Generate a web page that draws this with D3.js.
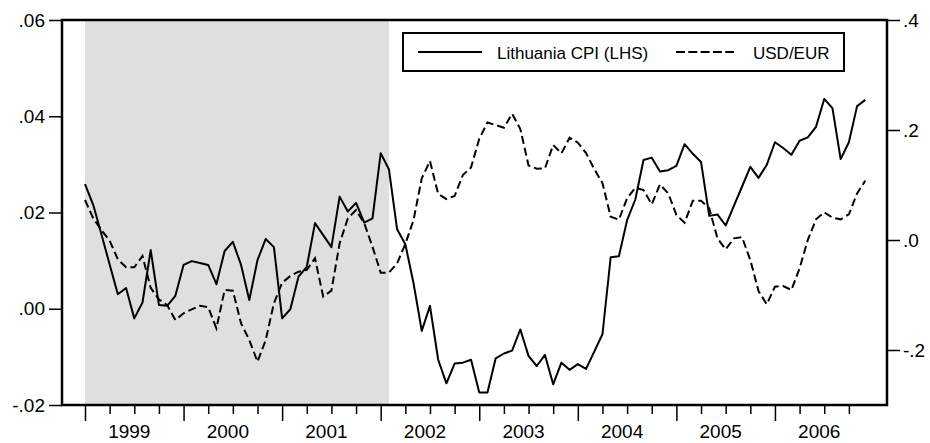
<!DOCTYPE html>
<html>
<head>
<meta charset="utf-8">
<script src="https://cdn.jsdelivr.net/npm/d3@7"></script>
<style>
  body { margin: 0; background: #ffffff; }
  text { font-family: "Liberation Sans", Arial, sans-serif; fill: #000; }
</style>
</head>
<body>
<div id="chart-area"></div>
<script>
// monthly data, Jan 1999 .. Dec 2006 (index 0 = Jan 1999)
var years = ["1999", "2000", "2001", "2002", "2003", "2004", "2005", "2006"];

var cpi = [
	0.0259, 0.0216, 0.0155, 0.0092, 0.0030, 0.0043, -0.0020, 0.0013, 0.0122, 0.0008, 0.0006, 0.0027,
	0.0091, 0.0099, 0.0095, 0.0091, 0.0051, 0.0120, 0.0139, 0.0091, 0.0018, 0.0101, 0.0145, 0.0128,
	-0.0020, -0.0001, 0.0067, 0.0087, 0.0178, 0.0153, 0.0128, 0.0233, 0.0202, 0.0220, 0.0179, 0.0188,
	0.0323, 0.0290, 0.0165, 0.0134, 0.0053, -0.0046, 0.0006, -0.0106, -0.0155, -0.0114, -0.0112, -0.0106,
	-0.0174, -0.0174, -0.0103, -0.0093, -0.0087, -0.0043, -0.0098, -0.0119, -0.0096, -0.0157, -0.0112, -0.0127,
	-0.0115, -0.0125, -0.0089, -0.0053, 0.0107, 0.0109, 0.0184, 0.0227, 0.0309, 0.0314, 0.0285, 0.0288,
	0.0297, 0.0342, 0.0322, 0.0305, 0.0193, 0.0196, 0.0173, 0.0214, 0.0254, 0.0295, 0.0272, 0.0299,
	0.0346, 0.0334, 0.0320, 0.0349, 0.0356, 0.0378, 0.0436, 0.0417, 0.0311, 0.0346, 0.0421, 0.0434
];

var usdeur = [
	0.0727, 0.0394, 0.0182, -0.0012, -0.0352, -0.0497, -0.0497, -0.0291, -0.0870, -0.1080, -0.1180, -0.1455,
	-0.1333, -0.1260, -0.1194, -0.1224, -0.1606, -0.0909, -0.0921, -0.1515, -0.1818, -0.2212, -0.1820, -0.1150,
	-0.0776, -0.0655, -0.0576, -0.0545, -0.0333, -0.1030, -0.0920, -0.0060, 0.0394, 0.0545, 0.0303, -0.0121,
	-0.0594, -0.0594, -0.0424, -0.0073, 0.0364, 0.1120, 0.1436, 0.0836, 0.0745, 0.0800, 0.1180, 0.1320,
	0.1840, 0.2136, 0.2090, 0.2040, 0.2296, 0.2018, 0.1355, 0.1297, 0.1303, 0.1727, 0.1576, 0.1860,
	0.1770, 0.1580, 0.1290, 0.1036, 0.0424, 0.0369, 0.0760, 0.0950, 0.0909, 0.0648, 0.1010, 0.0848,
	0.0455, 0.0315, 0.0715, 0.0715, 0.0576, 0.0030, -0.0170, 0.0030, 0.0050, -0.0364, -0.0927, -0.1170,
	-0.0848, -0.0836, -0.0909, -0.0515, 0.0000, 0.0376, 0.0503, 0.0406, 0.0376, 0.0467, 0.0848, 0.1079
];

// shaded period (month indices)
var shadeFrom = 0;
var shadeTo = 37;

var leftTicks = [-0.02, 0.00, 0.02, 0.04, 0.06];
var leftLabels = ["-.02", ".00", ".02", ".04", ".06"];
var rightTicks = [-0.2, 0.0, 0.2, 0.4];
var rightLabels = ["-.2", ".0", ".2", ".4"];

var legendNames = ["Lithuania CPI (LHS)", "USD/EUR"];

var margin = {left: 62, right: 43, top: 20, bottom: 38};
var width = 930 - margin.left - margin.right;
var height = 443 - margin.top - margin.bottom;

var svg = d3.select("#chart-area")
	.append("svg")
	.attr("width", 930)
	.attr("height", 443);

var g = svg.append("g")
	.attr("transform", "translate(" + margin.left + ", " + margin.top + ")");

var x = d3.scaleLinear()
	.domain([0, 95])
	.range([23, 803.3]);

var yL = d3.scaleLinear()
	.domain([-0.02, 0.06])
	.range([height, 0]);

var yR = d3.scaleLinear()
	.domain([-0.3, 0.4])
	.range([height, 0]);

// grey shading
g.append("rect")
	.attr("x", x(shadeFrom))
	.attr("y", 0)
	.attr("width", x(shadeTo) - x(shadeFrom))
	.attr("height", height)
	.attr("fill", "#dfdfdf");

// left axis
var leftAxis = d3.axisLeft(yL)
	.tickValues(leftTicks)
	.tickSize(13)
	.tickPadding(4)
	.tickFormat(function(d, i) { return leftLabels[i]; });

var leftGroup = g.append("g").call(leftAxis);
leftGroup.select(".domain").remove();
leftGroup.selectAll("line").attr("stroke", "#000").attr("stroke-width", 1.5);
leftGroup.selectAll("text")
	.attr("font-size", "19px")
	.attr("font-family", "Liberation Sans, Arial, sans-serif");

// right axis
var rightAxis = d3.axisRight(yR)
	.tickValues(rightTicks)
	.tickSize(13)
	.tickPadding(3)
	.tickFormat(function(d, i) { return rightLabels[i]; });

var rightGroup = g.append("g")
	.attr("transform", "translate(" + width + ", 0)")
	.call(rightAxis);
rightGroup.select(".domain").remove();
rightGroup.selectAll("line").attr("stroke", "#000").attr("stroke-width", 1.5);
rightGroup.selectAll("text")
	.attr("font-size", "19px")
	.attr("font-family", "Liberation Sans, Arial, sans-serif");

// bottom ticks: quarters, longer at year starts
var quarterTicks = d3.range(0, 96, 3);
var bottomAxis = d3.axisBottom(x)
	.tickValues(quarterTicks)
	.tickSize(9)
	.tickFormat("");

var bottomGroup = g.append("g")
	.attr("transform", "translate(0, " + height + ")")
	.call(bottomAxis);
bottomGroup.select(".domain").remove();
bottomGroup.selectAll("line")
	.attr("stroke", "#000")
	.attr("stroke-width", 1.5)
	.attr("y2", function(d) { return d % 12 == 0 ? 16 : 9; });

g.selectAll(".year-label")
	.data(years)
	.enter()
	.append("text")
	.attr("class", "year-label")
	.attr("x", function(d, i) { return x(i * 12 + 6) - 5; })
	.attr("y", height + 33)
	.attr("font-size", "19px")
	.attr("text-anchor", "middle")
	.text(function(d) { return d; });

// series
var lineL = d3.line()
	.x(function(d, i) { return x(i); })
	.y(function(d) { return yL(d); });

var lineR = d3.line()
	.x(function(d, i) { return x(i); })
	.y(function(d) { return yR(d); });

g.append("path")
	.datum(usdeur)
	.attr("d", lineR)
	.attr("fill", "none")
	.attr("stroke", "#000")
	.attr("stroke-width", 2)
	.attr("stroke-dasharray", "8,4");

g.append("path")
	.datum(cpi)
	.attr("d", lineL)
	.attr("fill", "none")
	.attr("stroke", "#000")
	.attr("stroke-width", 2)
	.attr("stroke-linejoin", "round");

// frame
g.append("rect")
	.attr("x", 0)
	.attr("y", 0)
	.attr("width", width)
	.attr("height", height)
	.attr("fill", "none")
	.attr("stroke", "#000")
	.attr("stroke-width", 2.5);

// legend
var legend = svg.append("g")
	.attr("transform", "translate(403, 33)");

legend.append("rect")
	.attr("width", 441)
	.attr("height", 38)
	.attr("fill", "#fff")
	.attr("stroke", "#000")
	.attr("stroke-width", 2);

legend.append("line")
	.attr("x1", 15).attr("x2", 79)
	.attr("y1", 19).attr("y2", 19)
	.attr("stroke", "#000")
	.attr("stroke-width", 2);

legend.append("text")
	.attr("x", 94)
	.attr("y", 26)
	.attr("font-size", "17px")
	.text(legendNames[0]);

legend.append("line")
	.attr("x1", 273).attr("x2", 331)
	.attr("y1", 19).attr("y2", 19)
	.attr("stroke", "#000")
	.attr("stroke-width", 2)
	.attr("stroke-dasharray", "9,3.3");

legend.append("text")
	.attr("x", 350)
	.attr("y", 26)
	.attr("font-size", "17px")
	.text(legendNames[1]);
</script>
</body>
</html>
